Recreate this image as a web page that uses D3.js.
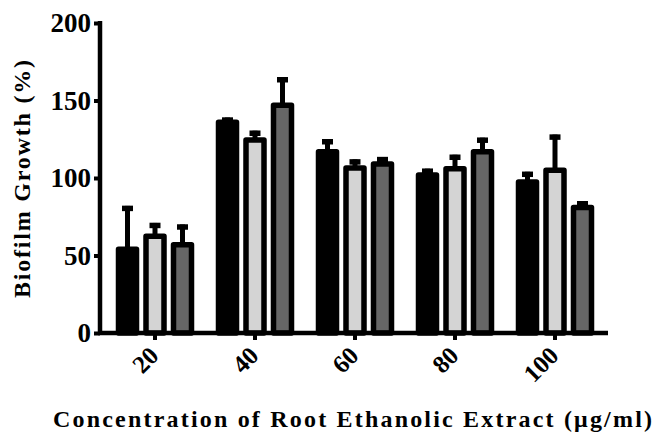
<!DOCTYPE html>
<html>
<head>
<meta charset="utf-8">
<script src="https://cdn.jsdelivr.net/npm/d3@7"></script>
<style>
  html, body { margin: 0; padding: 0; background: #fff; }
  svg { display: block; }
</style>
</head>
<body>
<div id="chart"></div>
<script>
// concentrations (µg/ml)
const categories = ["20", "40", "60", "80", "100"];
const seriesNames = ["s1", "s2", "s3"];
const seriesFill = ["#000000", "#d4d4d4", "#666666"];

// biofilm growth (%) per series, and upper error (SD)
const means = [
    [54, 136, 117, 102, 97.5],
    [62.5, 124.5, 106.5, 106, 105],
    [57, 147, 109, 117, 81]
];
const errs = [
    [28, 3, 8, 4, 6.5],
    [8.5, 6, 5.5, 9, 23],
    [13, 18, 4.5, 9, 4]
];
const yTicks = [0, 50, 100, 150, 200];

const width = 657, height = 435;
const font = "'Liberation Serif', 'Times New Roman', serif";

const svg = d3.select("#chart").append("svg")
    .attr("width", width)
    .attr("height", height);

/* scales */
const x = d3.scaleBand()
    .domain(categories)
    .range([105, 605])
    .padding(0);

const xInner = d3.scaleBand()
    .domain(seriesNames)
    .range([13.5, 86.5])
    .paddingInner(0.345);

const y = d3.scaleLinear()
    .domain([0, 200])
    .range([333, 23]);

/* bars */
const rows = [];
categories.forEach((c, i) => {
    seriesNames.forEach((s, j) => {
        rows.push({cat: c, s: s, j: j, v: means[j][i], e: errs[j][i]});
    });
});

const cx = d => x(d.cat) + xInner(d.s) + xInner.bandwidth() / 2;
const g = svg.append("g");

// error bars (behind bars)
const eb = g.selectAll(".err").data(rows).join("g").attr("class", "err");
eb.append("line")
    .attr("x1", cx)
    .attr("x2", cx)
    .attr("y1", d => y(d.v))
    .attr("y2", d => y(d.v + d.e))
    .attr("stroke", "#000")
    .attr("stroke-width", 5);
eb.append("line")
    .attr("x1", d => cx(d) - 5.5)
    .attr("x2", d => cx(d) + 5.5)
    .attr("y1", d => y(d.v + d.e) + 2.5)
    .attr("y2", d => y(d.v + d.e) + 2.5)
    .attr("stroke", "#000")
    .attr("stroke-width", 5.5);

g.selectAll(".bar").data(rows).join("rect")
    .attr("class", "bar")
    .attr("x", d => x(d.cat) + xInner(d.s))
    .attr("y", d => y(d.v))
    .attr("width", xInner.bandwidth())
    .attr("height", d => y(0) - y(d.v))
    .attr("fill", d => seriesFill[d.j])
    .attr("stroke", "#000")
    .attr("stroke-width", 5.5)
    .attr("stroke-linejoin", "round");

/* axes */
const yAxis = svg.append("g")
    .attr("transform", "translate(100,0)")
    .call(d3.axisLeft(y).tickValues(yTicks).tickSize(6).tickPadding(3));
yAxis.select(".domain").attr("stroke-width", 4.5).attr("d", `M0,${y(200) - 2}V${y(0)}`);
yAxis.selectAll(".tick line").attr("stroke-width", 4);
yAxis.selectAll(".tick text")
    .style("font-family", font)
    .style("font-weight", "bold")
    .style("font-size", "27px")
    .attr("dy", "0.33em");

const xAxis = svg.append("g")
    .attr("transform", `translate(0,${y(0)})`)
    .call(d3.axisBottom(x).tickSize(7).tickSizeOuter(0));
xAxis.select(".domain").attr("stroke-width", 4.5).attr("d", `M98,0H608`);
xAxis.selectAll(".tick line").attr("stroke-width", 4);
xAxis.selectAll(".tick text")
    .style("font-family", font)
    .style("font-weight", "bold")
    .style("font-size", "25px")
    .attr("text-anchor", "end")
    .attr("dy", "0.35em")
    .attr("transform", "translate(-1,18) rotate(-45)")
    .attr("y", 0)
    .attr("x", 0);

/* titles */
svg.append("text")
    .attr("transform", "translate(30,179) rotate(-90)")
    .attr("text-anchor", "middle")
    .style("font-family", font)
    .style("font-weight", "bold")
    .style("font-size", "24px")
    .attr("textLength", 238)
    .attr("lengthAdjust", "spacing")
    .text("Biofilm Growth (%)");

svg.append("text")
    .attr("x", 53)
    .attr("y", 427)
    .style("font-family", font)
    .style("font-weight", "bold")
    .style("font-size", "24px")
    .attr("textLength", 599)
    .attr("lengthAdjust", "spacing")
    .text("Concentration of Root Ethanolic Extract (μg/ml)");
</script>
</body>
</html>
